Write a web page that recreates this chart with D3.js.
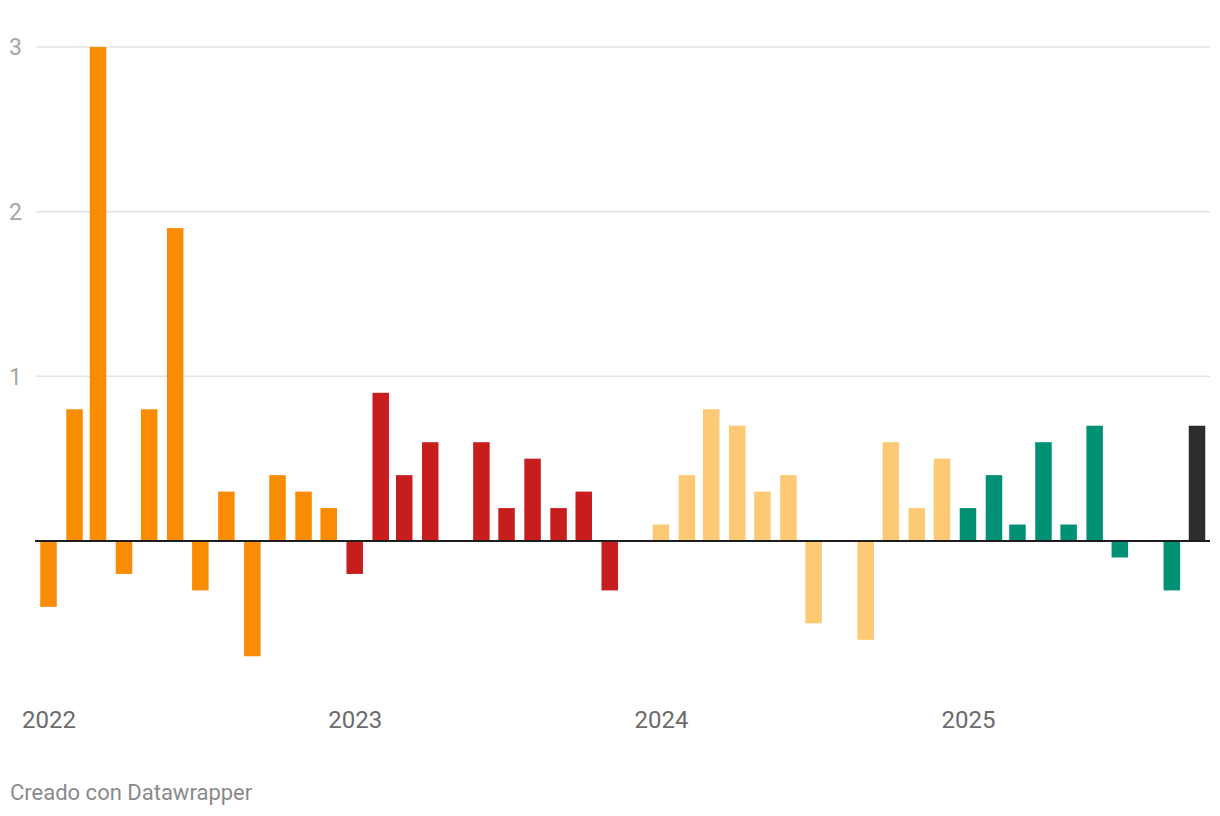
<!DOCTYPE html>
<html>
<head>
<meta charset="utf-8">
<script src="https://cdn.jsdelivr.net/npm/d3@7"></script>
<style>
  html, body { margin: 0; padding: 0; background: #fff; }
  svg { display: block; font-family: Roboto, "Noto Sans", sans-serif; }
</style>
</head>
<body>
<svg id="chart" width="1220" height="816"></svg>
<script>
// Monthly values, Jan 2022 – Oct 2025 (0 = no visible bar)
const months = d3.timeMonths(new Date(2022, 0, 1), new Date(2025, 10, 1));
const values2022 = [-0.4, 0.8, 3.0, -0.2, 0.8, 1.9, -0.3, 0.3, -0.7, 0.4, 0.3, 0.2];
const values2023 = [-0.2, 0.9, 0.4, 0.6, 0.0, 0.6, 0.2, 0.5, 0.2, 0.3, -0.3, 0.0];
const values2024 = [0.1, 0.4, 0.8, 0.7, 0.3, 0.4, -0.5, 0.0, -0.6, 0.6, 0.2, 0.5];
const values2025 = [0.2, 0.4, 0.1, 0.6, 0.1, 0.7, -0.1, 0.0, -0.3, 0.7];
const yearColors = { 2022: "#f98c00", 2023: "#c71e1d", 2024: "#fdc975", 2025: "#009174" };
const latestColor = "#2d2d2d";
const yTicks = [1, 2, 3];
const xTickYears = [2022, 2023, 2024, 2025];
const footerText = "Creado con Datawrapper";

const allValues = [...values2022, ...values2023, ...values2024, ...values2025];
const data = months.map((d, i) => ({ date: d, value: allValues[i], last: i === months.length - 1 }));

const svg = d3.select("#chart");
const x = d3.scaleTime()
  .domain([new Date(2022, 0, 1), new Date(2025, 9, 1)])
  .range([48.5, 1197]);
const y = d3.scaleLinear().domain([0, 3]).range([541, 47]);
const barW = 16.5;

// gridlines
const grid = svg.append("g");
grid.selectAll("line").data(yTicks).join("line")
  .attr("x1", 36).attr("x2", 1210)
  .attr("y1", d => y(d)).attr("y2", d => y(d))
  .attr("stroke", "#e3e3e3").attr("stroke-width", 1.5);

// y labels
svg.append("g").selectAll("text").data(yTicks).join("text")
  .attr("x", 9).attr("y", d => y(d))
  .attr("dy", "0.36em")
  .attr("fill", "#a5a5a5").attr("font-size", 23)
  .text(d => d);

// bars
svg.append("g").selectAll("rect")
  .data(data.filter(d => d.value !== null && d.value !== 0))
  .join("rect")
  .attr("x", d => x(d.date) - barW / 2)
  .attr("width", barW)
  .attr("y", d => Math.min(y(d.value), y(0)))
  .attr("height", d => Math.abs(y(d.value) - y(0)))
  .attr("fill", d => d.last ? latestColor : yearColors[d.date.getFullYear()]);

// zero line
svg.append("line")
  .attr("x1", 35).attr("x2", 1210)
  .attr("y1", y(0)).attr("y2", y(0))
  .attr("stroke", "#1d1d1d").attr("stroke-width", 2);

// x axis labels
const xAxis = d3.axisBottom(x)
  .tickValues(xTickYears.map(yr => new Date(yr, 0, 1)))
  .tickFormat(d3.timeFormat("%Y"))
  .tickSize(0);
const gx = svg.append("g").attr("transform", "translate(0,700)").call(xAxis);
gx.select(".domain").remove();
gx.selectAll("text")
  .attr("font-family", "Roboto, sans-serif")
  .attr("font-size", 24)
  .attr("fill", "#6b6b6b")
  .attr("dy", "0.71em")
  .attr("y", 11);

// footer
svg.append("text")
  .attr("x", 10).attr("y", 800)
  .attr("font-size", 22).attr("fill", "#8a8a8a")
  .text(footerText);
</script>
</body>
</html>
